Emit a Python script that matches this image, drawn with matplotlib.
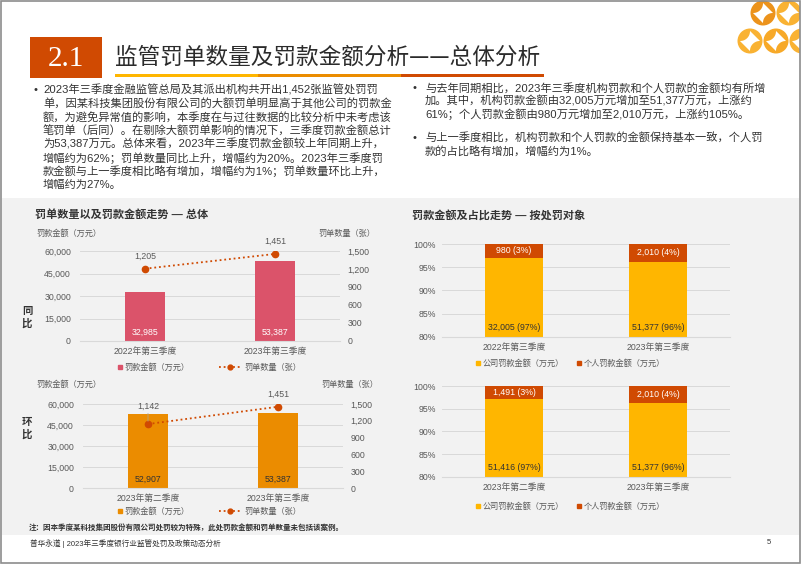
import matplotlib
matplotlib.use("Agg")
import matplotlib.pyplot as plt
import numpy as np
from matplotlib.patches import Rectangle, Circle, Polygon
from matplotlib.lines import Line2D
from matplotlib.ticker import FuncFormatter

plt.rcParams['font.family'] = ['Liberation Sans', 'Noto Sans CJK SC', 'DejaVu Sans']

# data
yoy_cats = ['2022年第三季度', '2023年第三季度']
yoy_fines = [32985, 53387]
yoy_counts = [1205, 1451]
qoq_cats = ['2023年第二季度', '2023年第三季度']
qoq_fines = [52907, 53387]
qoq_counts = [1142, 1451]
yoy_corp = [32005, 51377]
yoy_indiv = [980, 2010]
qoq_corp = [51416, 51377]
qoq_indiv = [1491, 2010]

left_bullet = [
    "2023年三季度金融监管总局及其派出机构共开出1,452张监管处罚罚",
    "单，因某科技集团股份有限公司的大额罚单明显高于其他公司的罚款金",
    "额，为避免异常值的影响，本季度在与过往数据的比较分析中未考虑该",
    "笔罚单（后同）。在剔除大额罚单影响的情况下，三季度罚款金额总计",
    "为53,387万元。总体来看，2023年三季度罚款金额较上年同期上升，",
    "增幅约为62%；罚单数量同比上升，增幅约为20%。2023年三季度罚",
    "款金额与上一季度相比略有增加，增幅约为1%；罚单数量环比上升，",
    "增幅约为27%。",
]
right_bullet1 = [
    "与去年同期相比，2023年三季度机构罚款和个人罚款的金额均有所增",
    "加。其中，机构罚款金额由32,005万元增加至51,377万元，上涨约",
    "61%；个人罚款金额由980万元增加至2,010万元，上涨约105%。",
]
right_bullet2 = [
    "与上一季度相比，机构罚款和个人罚款的金额保持基本一致，个人罚",
    "款的占比略有增加，增幅约为1%。",
]

PINK = '#DB536A'
ORANGE = '#EB8C00'
YELLOW = '#FFB600'
RED = '#D04A02'
GRID = '#D9D9D9'
TXT = '#333333'
TICK = '#595959'

W, H = 802, 567
fig = plt.figure(figsize=(W / 100, H / 100), dpi=100)


def P(x, y):
    return (x / W, 1 - y / H)


def rect(x0, y0, x1, y1, **kw):
    fig.add_artist(Rectangle(P(x0, y1), (x1 - x0) / W, (y1 - y0) / H,
                             transform=fig.transFigure, **kw))


def axes_px(x0, y0, x1, y1):
    ax = fig.add_axes([x0 / W, 1 - y1 / H, (x1 - x0) / W, (y1 - y0) / H])
    ax.set_facecolor('none')
    return ax


def text(x, y, s, **kw):
    fig.text(x / W, 1 - y / H, s, **kw)


# background panel and frame
rect(2, 198, 799, 535, facecolor='#F2F2F2', edgecolor='none', zorder=0)
rect(1, 1, 800, 563, facecolor='none', edgecolor='#8C8C8C', lw=1.2, zorder=10)

# header
rect(30, 37, 102, 78, facecolor=RED, edgecolor='none')
text(66, 59, '2.1', color='white', fontsize=21, family='Liberation Serif',
     ha='center', va='center')
text(115, 57, '监管罚单数量及罚款金额分析——总体分析', color='#2B2B2B', fontsize=16.3,
     family=['Noto Sans CJK SC', 'DejaVu Sans'], weight='light', ha='left', va='center')
for i, c in enumerate([YELLOW, ORANGE, RED]):
    rect(115 + i * 143, 74, 115 + (i + 1) * 143, 77, facecolor=c, edgecolor='none')

# logo
lax = axes_px(730, 0, 802, 62)
lax.set_xlim(730, 802)
lax.set_ylim(62, 0)
lax.axis('off')
t = np.linspace(0, np.pi / 2, 20)
for cx, cy, col in [(763, 13, '#EC931C'), (789, 13, '#F9B233'),
                    (750, 41, '#F9B233'), (776, 41, '#F7A928'), (802, 41, '#F9B233')]:
    r = 12.5
    lax.add_patch(Circle((cx, cy), r, color=col, lw=0))
    s = 0.78 * r
    pts = []
    for sx, sy in [(1, 1), (-1, 1), (-1, -1), (1, -1)]:
        for a in t:
            pts.append((cx + sx * s - sx * s * np.sin(a), cy + sy * s - sy * s * np.cos(a)))
    lax.add_patch(Polygon(pts, closed=True, color='white', lw=0))
rect(800, 0, 802, 567, facecolor='white', edgecolor='none', zorder=9)

# bullets
bfs = 8.1
text(33, 90, '•', fontsize=bfs, color=TXT, va='center')
for i, line in enumerate(left_bullet):
    text(43, 90 + i * 13.6, line, fontsize=bfs, color=TXT, va='center')
text(413, 88, '•', fontsize=bfs, color=TXT, va='center')
for i, line in enumerate(right_bullet1):
    text(425, 88 + i * 13.3, line, fontsize=bfs, color=TXT, va='center')
text(413, 138, '•', fontsize=bfs, color=TXT, va='center')
for i, line in enumerate(right_bullet2):
    text(425, 138 + i * 13.3, line, fontsize=bfs, color=TXT, va='center')

# chart titles
text(35, 214, '罚单数量以及罚款金额走势 — 总体', fontsize=8, weight='bold', color=TXT, va='center')
text(412, 215, '罚款金额及占比走势 — 按处罚对象', fontsize=8, weight='bold', color=TXT, va='center')

FS = 6.3


def combo(box, cats, fines, counts, bar_color, val_color, offs, side_label, side_y,
          unit_y, legend_y):
    ax = axes_px(*box)
    x = np.arange(len(cats))
    ax.bar(x, fines, width=0.31, color=bar_color, zorder=2)
    ax.set_xlim(-0.5, 1.5)
    ax.set_ylim(0, 60000)
    ax.set_yticks(range(0, 60001, 15000))
    ax.yaxis.set_major_formatter(FuncFormatter(lambda v, p: f'{int(v):,}'))
    ax.set_xticks(x)
    ax.set_xticklabels(cats)
    ax.yaxis.grid(True, color=GRID, lw=0.7)
    ax.set_axisbelow(True)
    for s in ['top', 'left', 'right']:
        ax.spines[s].set_visible(False)
    ax.spines['bottom'].set_color(GRID)
    ax.tick_params(axis='y', length=0, pad=6.5, labelsize=FS, labelcolor=TICK)
    ax.tick_params(axis='x', length=0, pad=4.5, labelsize=FS, labelcolor=TICK)
    for xi, v in zip(x, fines):
        ax.annotate(f'{v:,}', (xi, 0), xytext=(0, 6), textcoords='offset points',
                    ha='center', va='center', fontsize=FS, color=val_color)
    ax2 = ax.twinx()
    ax2.set_facecolor('none')
    ax2.plot(x, counts, ls=(0, (1, 1.6)), lw=1.3, color=RED, marker='o', ms=4.5, zorder=3)
    ax2.set_ylim(0, 1500)
    ax2.set_yticks(range(0, 1501, 300))
    ax2.yaxis.set_major_formatter(FuncFormatter(lambda v, p: f'{int(v):,}'))
    for s in ax2.spines.values():
        s.set_visible(False)
    ax2.tick_params(axis='y', length=0, pad=5.5, labelsize=FS, labelcolor=TICK)
    for xi, v, o in zip(x, counts, offs):
        kw = {}
        if o > 10:
            kw['arrowprops'] = dict(arrowstyle='-', color='#A6A6A6', lw=0.5,
                                    shrinkA=0, shrinkB=2)
        ax2.annotate(f'{v:,}', (xi, v), xytext=(0, o), textcoords='offset points',
                     ha='center', va='center', fontsize=FS, color=TICK, **kw)
    text(36, unit_y, '罚款金额（万元）', fontsize=5.9, color=TICK, va='center')
    text(box[2] + 35, unit_y, '罚单数量（张）', fontsize=5.9, color=TICK, va='center', ha='right')
    text(27, side_y, side_label[0], fontsize=7.5, weight='bold', color=TXT, va='center', ha='center')
    text(27, side_y + 13, side_label[1], fontsize=7.5, weight='bold', color=TXT, va='center', ha='center')
    h1 = Line2D([], [], marker='s', ls='none', color=bar_color, markersize=3.5)
    h2 = Line2D([], [], ls=(0, (1, 1.6)), lw=1.3, color=RED, marker='o', markersize=3.5)
    fig.legend([h1], ['罚款金额（万元）'], loc='center left', bbox_to_anchor=P(118, legend_y),
               frameon=False, fontsize=5.9, handlelength=0.5, handletextpad=0.3,
               borderpad=0, borderaxespad=0, labelcolor=TICK)
    fig.legend([h2], ['罚单数量（张）'], loc='center left', bbox_to_anchor=P(219, legend_y),
               frameon=False, fontsize=5.9, handlelength=2.6, handletextpad=0.5,
               borderpad=0, borderaxespad=0, labelcolor=TICK)


combo((80, 251, 340, 341), yoy_cats, yoy_fines, yoy_counts, PINK, 'white', [9, 9],
      '同比', 311, 234, 368)
combo((83, 404, 343, 488), qoq_cats, qoq_fines, qoq_counts, ORANGE, TXT, [13, 9],
      '环比', 422, 385, 512)


def stacked(box, cats, corp, indiv, legend_y):
    ax = axes_px(*box)
    x = np.arange(len(cats))
    corp = np.array(corp, float)
    indiv = np.array(indiv, float)
    tot = corp + indiv
    cs = corp / tot
    ish = indiv / tot
    ax.bar(x, cs, width=0.4, color=YELLOW, zorder=2)
    ax.bar(x, ish, bottom=cs, width=0.4, color=RED, zorder=2)
    ax.set_xlim(-0.5, 1.5)
    ax.set_ylim(0.8, 1.0)
    ax.set_yticks(np.linspace(0.8, 1.0, 5))
    ax.yaxis.set_major_formatter(FuncFormatter(lambda v, p: f'{v * 100:.0f}%'))
    ax.set_xticks(x)
    ax.set_xticklabels(cats)
    ax.yaxis.grid(True, color=GRID, lw=0.7)
    ax.set_axisbelow(True)
    for s in ['top', 'left', 'right']:
        ax.spines[s].set_visible(False)
    ax.spines['bottom'].set_color(GRID)
    ax.tick_params(axis='y', length=0, pad=4.5, labelsize=FS, labelcolor=TICK)
    ax.tick_params(axis='x', length=0, pad=4.5, labelsize=FS, labelcolor=TICK)
    for xi, c, i, a, b in zip(x, corp, indiv, cs, ish):
        ax.annotate(f'{int(c):,} ({a * 100:.0f}%)', (xi, 0.8), xytext=(0, 6.5),
                    textcoords='offset points', ha='center', va='center',
                    fontsize=FS, color=TXT)
        ax.text(xi, a + b / 2, f'{int(i):,} ({b * 100:.0f}%)', ha='center', va='center',
                fontsize=FS, color='white')
    h1 = Line2D([], [], marker='s', ls='none', color=YELLOW, markersize=3.5)
    h2 = Line2D([], [], marker='s', ls='none', color=RED, markersize=3.5)
    fig.legend([h1, h2], ['公司罚款金额（万元）', '个人罚款金额（万元）'], loc='center left',
               bbox_to_anchor=P(476, legend_y), ncol=2, frameon=False, fontsize=5.9,
               handlelength=0.5, handletextpad=0.3, columnspacing=1.6,
               borderpad=0, borderaxespad=0, labelcolor=TICK)


stacked((442, 244, 730, 337), yoy_cats, yoy_corp, yoy_indiv, 364)
stacked((442, 386, 730, 477), qoq_cats, qoq_corp, qoq_indiv, 507)

# note and footer
text(29, 528, '注：因本季度某科技集团股份有限公司处罚较为特殊，此处罚款金额和罚单数量未包括该案例。',
     fontsize=5.45, color=TXT, va='center', weight='bold')
text(30, 544, '普华永道 | 2023年三季度银行业监管处罚及政策动态分析', fontsize=5.5,
     color=TXT, va='center')
text(769, 543, '5', fontsize=5.5, color=TXT, va='center', ha='center')

fig.savefig('out.png', dpi=100, facecolor='white')
